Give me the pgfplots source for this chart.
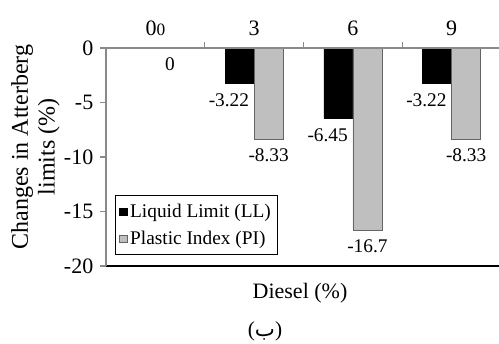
\documentclass[border=0pt]{standalone}
\usepackage{fontspec}
\setmainfont{Liberation Serif}
\newfontfamily\arabicfont[Script=Arabic]{DejaVu Sans}
\TeXXeTstate=1
\usepackage{pgfplots}
\usepackage{pgfplotstable}
\pgfplotsset{compat=1.18}
\definecolor{axgray}{RGB}{137,137,137}
\definecolor{bargray}{RGB}{191,191,191}
\definecolor{bordergray}{RGB}{100,100,100}
\pgfplotstableread{
x ll pi llab plab
0 0 0 {} 0
1 -3.22 -8.33 -3.22 -8.33
2 -6.45 -16.7 -6.45 -16.7
3 -3.22 -8.33 -3.22 -8.33
}\data
\newcommand{\pp}[2]{({#1*0.75pt},{(343-#2)*0.75pt})}
\begin{document}
\begin{tikzpicture}
\path[use as bounding box] (0,0) rectangle (374.25pt,257.25pt);
\begin{axis}[
  at={(79.5pt,57.75pt)}, anchor=south west,
  scale only axis, width=296.25pt, height=163.5pt,
  xmin=-0.5, xmax=3.5, ymin=-20, ymax=0,
  clip=false, axis on top,
  axis x line*=top, axis y line*=left,
  axis line style={axgray, line width=0.8pt, -},
  tick align=inside,
  major tick length=4.5pt,
  xtick={0.5,1.5,2.5}, xticklabels={},
  extra x ticks={0,1,2,3},
  extra x tick labels={0{\fontsize{13}{13}\selectfont 0},3,6,9},
  extra x tick style={major tick length=0pt, xticklabel style={yshift=6pt}},
  xtick style={axgray, line width=0.8pt},
  ytick={-20,-15,-10,-5,0},
  ytick style={axgray, line width=0.8pt, xshift=-4.5pt},
  yticklabel style={xshift=-6pt},
  tick label style={font=\fontsize{16.5}{19}\selectfont},
  /pgf/number format/assume math mode=true,
  ybar, bar width=0.294,
  point meta=explicit symbolic,
  nodes near coords,
  nodes near coords style={font=\fontsize{14.5}{16}\selectfont, anchor=center},
  legend style={at={(0.023,0.05)}, anchor=south west, draw=black, line width=0.6pt,
    font=\fontsize{14.5}{16}\selectfont, row sep=5pt, inner xsep=3pt, inner ysep=4pt},
  legend cell align=left,
]
\addplot[fill=black, draw=black, bar shift=-0.147,
  nodes near coords style={yshift=-13pt, xshift=-8pt},
  legend image code/.code={\draw[fill=black,draw=black,line width=0.4pt] (0pt,-2.8pt) rectangle (5.6pt,2.8pt);}]
  table[x=x, y=ll, meta=llab] {\data};
\addlegendentry{Liquid Limit (LL)}
\addplot[fill=bargray, draw=bordergray, bar shift=0.147,
  nodes near coords style={yshift=-12pt},
  legend image code/.code={\draw[fill=bargray,draw=bordergray,line width=0.4pt] (0pt,-2.8pt) rectangle (5.6pt,2.8pt);}]
  table[x=x, y=pi, meta=plab] {\data};
\addlegendentry{Plastic Index (PI)}
\draw[black, line width=0.8pt] (axis cs:-0.56,-20) -- (axis cs:3.52,-20);
\end{axis}
\node[rotate=90, align=center, font=\fontsize{18}{20}\selectfont] at \pp{35.5}{147} {Changes in Atterberg\\limits (\%)};
\node[font=\fontsize{16.5}{19}\selectfont] at \pp{300}{293} {Diesel (\%)};
\node[font=\fontsize{16}{19}\selectfont] at \pp{265}{331} {({\arabicfont\beginR ب\endR})};
\end{tikzpicture}
\end{document}
